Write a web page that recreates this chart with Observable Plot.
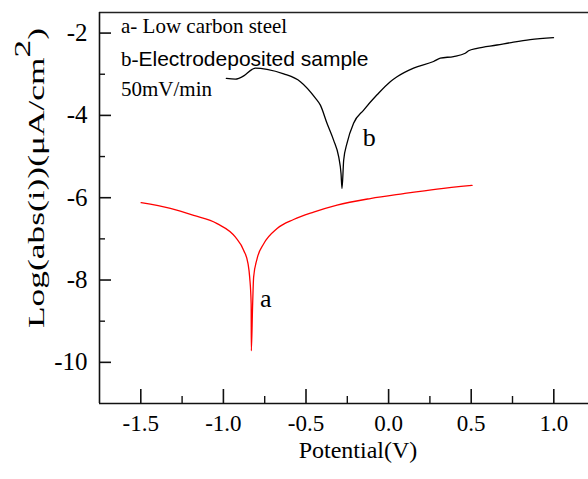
<!DOCTYPE html>
<html><head><meta charset="utf-8">
<script src="https://cdn.jsdelivr.net/npm/d3@7"></script>
<script src="https://cdn.jsdelivr.net/npm/@observablehq/plot@0.6"></script>
<style>body{margin:0;background:#fff}#chart{width:588px;height:479px;overflow:hidden}</style>
</head><body><div id="chart"></div>
<script>
// Curve b (Electrodeposited sample)
const potentialB = [-0.982,-0.928,-0.877,-0.826,-0.806,-0.736,-0.635,-0.534,-0.443,-0.413,-0.373,-0.333,-0.302,-0.288,-0.282,-0.272,-0.252,-0.212,-0.151,-0.070,0.010,0.051,0.151,0.272,0.313,0.393,0.464,0.484,0.535,0.656,0.756,0.857,0.998];
const logB = [-3.10,-3.12,-3.04,-2.88,-2.85,-2.88,-2.99,-3.18,-3.58,-3.75,-4.19,-4.60,-5.01,-5.41,-5.78,-5.09,-4.68,-4.19,-3.87,-3.50,-3.18,-3.06,-2.85,-2.69,-2.61,-2.57,-2.49,-2.43,-2.37,-2.29,-2.22,-2.16,-2.11];
// Curve a (Low carbon steel)
const potentialA = [-1.498,-1.321,-1.180,-1.038,-0.927,-0.877,-0.851,-0.841,-0.832,-0.831,-0.823,-0.817,-0.796,-0.756,-0.675,-0.575,-0.454,-0.312,-0.111,0.091,0.293,0.505];
const logA = [-6.12,-6.26,-6.43,-6.63,-6.96,-7.28,-7.60,-7.93,-8.58,-9.72,-8.58,-7.93,-7.48,-7.12,-6.75,-6.53,-6.35,-6.18,-6.02,-5.90,-5.79,-5.70];
const curveLabels = ["a","b"];
const curveLabelX = [-0.743,-0.117];
const curveLabelY = [-8.45,-4.55];
const xTicks = [-1.5,-1.0,-0.5,0.0,0.5,1.0];
const xMinor = [-1.25,-0.75,-0.25,0.25,0.75];
const yTicks = [-10,-8,-6,-4,-2];
const yMinor = [-9,-7,-5,-3];
const legendLines = ["a- Low carbon steel","b-Electrodeposited sample","50mV/min"];

const serif = "'Liberation Serif','Times New Roman',serif";
const sans = "'Liberation Sans',Arial,sans-serif";
const dataA = potentialA.map((x,i)=>({x,y:logA[i]}));
const dataB = potentialB.map((x,i)=>({x,y:logB[i]}));
const labels = curveLabels.map((t,i)=>({t,x:curveLabelX[i],y:curveLabelY[i]}));

const plot = Plot.plot({
  width:588, height:479,
  marginLeft:99, marginRight:0, marginTop:12, marginBottom:76,
  x:{domain:[-1.75,1.21]},
  y:{domain:[-11,-1.5]},
  style:{fontFamily:serif, background:"white", color:"black", overflow:"visible"},
  marks:[
    Plot.ruleY([-1.5],{stroke:"#222",strokeWidth:1.4}),
    Plot.ruleY([-11],{stroke:"#111",strokeWidth:1.6}),
    Plot.ruleX([-1.75],{stroke:"#111",strokeWidth:1.6}),
    Plot.axisX(xTicks,{tickSize:-14,fill:"none",stroke:"#111",strokeWidth:1.6,label:null}),
    Plot.axisX(xMinor,{tickSize:-7,fill:"none",stroke:"#111",strokeWidth:1.4,label:null}),
    Plot.axisY(yTicks,{tickSize:-12,fill:"none",stroke:"#111",strokeWidth:1.6,label:null}),
    Plot.axisY(yMinor,{tickSize:-6,fill:"none",stroke:"#111",strokeWidth:1.4,label:null}),
    Plot.axisX(xTicks,{tickSize:0,tickPadding:11,stroke:"none",fontSize:23,tickFormat:d=>d.toFixed(1),label:null}),
    Plot.axisY(yTicks,{tickSize:0,tickPadding:12,stroke:"none",fontSize:25,tickFormat:d=>String(d),label:null}),
    Plot.line(dataA,{x:"x",y:"y",stroke:"#ff0000",strokeWidth:1.3,curve:"monotone-x"}),
    Plot.line(dataB,{x:"x",y:"y",stroke:"#000",strokeWidth:1.3,curve:"monotone-x"}),
    Plot.text(labels,{x:"x",y:"y",text:"t",fontSize:26,fill:"black"})
  ]
});
document.getElementById("chart").appendChild(plot);
const svg = d3.select(plot);
// Legend text
const lg = svg.append("g").attr("fill","black").attr("text-anchor","start");
lg.append("text").attr("x",121).attr("y",33).attr("font-family",serif).attr("font-size",21).text(legendLines[0]);
const t2 = lg.append("text").attr("x",121).attr("y",66).attr("font-size",21);
t2.append("tspan").attr("font-family",serif).text(legendLines[1].slice(0,2));
t2.append("tspan").attr("font-family",sans).text(legendLines[1].slice(2));
lg.append("text").attr("x",121).attr("y",96).attr("font-family",serif).attr("font-size",21).text(legendLines[2]);
// Axis titles
svg.append("text").attr("x",358).attr("y",458).attr("text-anchor","middle").attr("font-family",serif).attr("font-size",24).attr("fill","black").text("Potential(V)");
const yl = svg.append("text").attr("transform","translate(44,178) rotate(-90)").attr("text-anchor","middle").attr("font-family",serif).attr("font-size",23).attr("fill","black")
  .attr("textLength",300).attr("lengthAdjust","spacingAndGlyphs");
yl.append("tspan").text("Log(abs(i))(\u03bcA/cm");
yl.append("tspan").attr("dy",-14).text("2");
yl.append("tspan").attr("dy",14).text(")");
</script></body></html>
